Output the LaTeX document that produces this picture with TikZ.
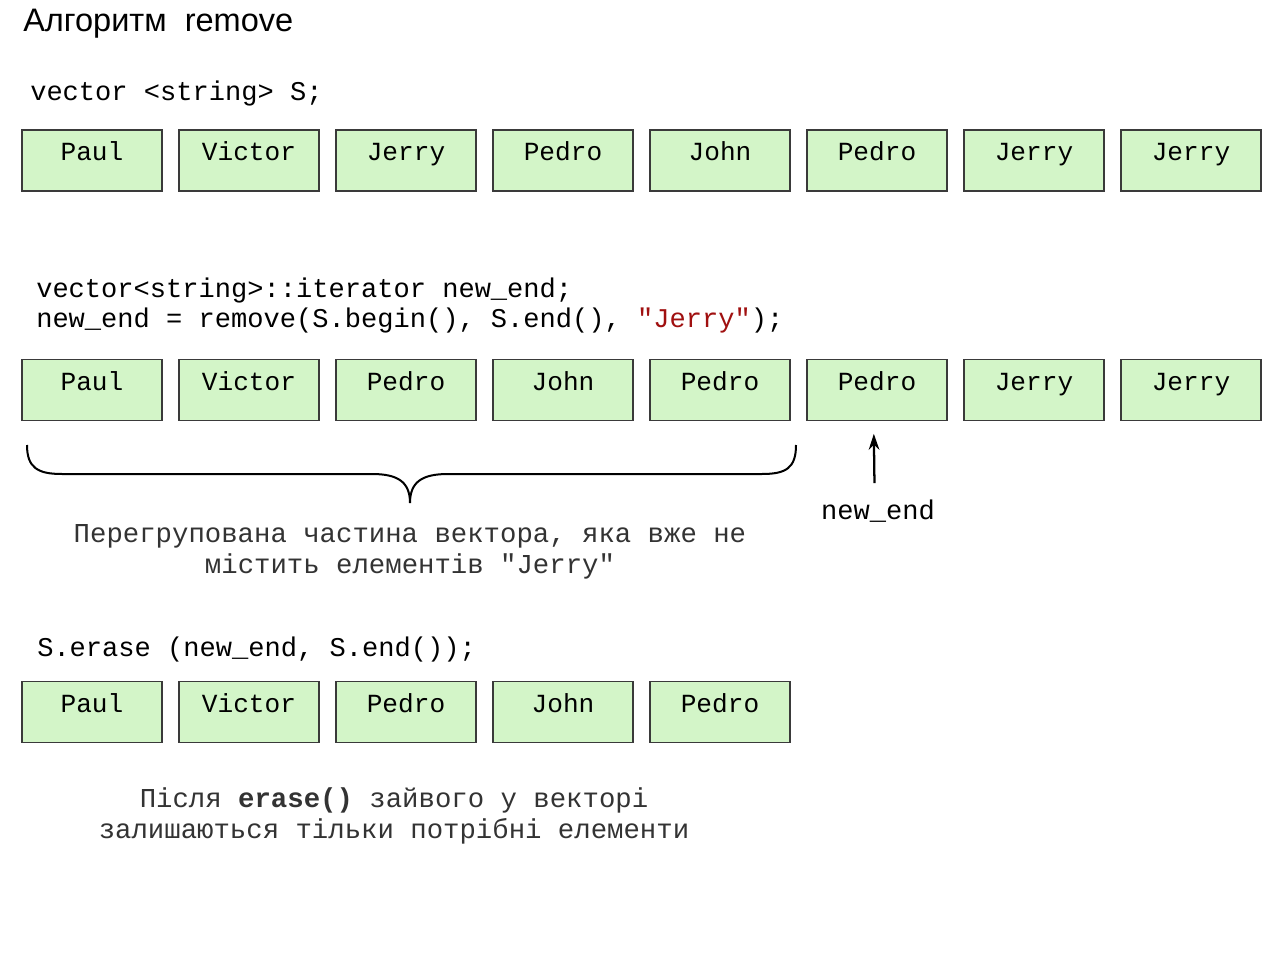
\documentclass[tikz,border=0pt]{standalone}
\usepackage{fontspec}
\setmainfont{Liberation Sans}
\newfontfamily\cmono{Liberation Mono}
\usetikzlibrary{arrows.meta}
\definecolor{boxfill}{HTML}{D3F5C8}
\definecolor{boxline}{HTML}{3A3A3A}
\definecolor{jred}{HTML}{A01010}
\definecolor{captxt}{HTML}{333333}
\tikzset{
  cell/.style={draw=boxline, line width=1pt, fill=boxfill, minimum width=105pt,
    inner sep=0pt, text height=23.25pt, text depth=22.5pt, align=center,
    font=\cmono\fontsize{19.6}{22}\selectfont},
  code/.style={anchor=base west, inner sep=0pt, font=\cmono\fontsize{20.3}{23}\selectfont},
  caption/.style={anchor=base, inner sep=0pt, text=captxt, font=\cmono\fontsize{20.5}{23}\selectfont},
  title/.style={anchor=west, inner sep=0pt, font=\fontsize{24.4}{28}\selectfont},
  brace/.style={line width=1.5pt, draw=black},
  ptr/.style={line width=1.7pt, -{Stealth[length=12pt,width=8pt]}}
}
\begin{document}
\begin{tikzpicture}[x=0.75pt,y=-0.75pt]
\useasboundingbox[fill=white] (0,0) rectangle (1280,955);
\node[title] (title) at (23,24) {Алгоритм\ \ remove};
\node[code] (c1) at (30,101) {vector <string> S;};
% row 1
\foreach \t [count=\i] in {Paul,Victor,Jerry,Pedro,John,Pedro,Jerry,Jerry}
  \node[cell] (a\i) at ({92+157*(\i-1)},160.5) {\t};
\node[code] (c2) at (36,298) {vector<string>::iterator new\_end;};
\node[code] (c3) at (36,328) {new\_end = remove(S.begin(), S.end(), \textcolor{jred}{"Jerry"});};
% row 2
\foreach \t [count=\i] in {Paul,Victor,Pedro,John,Pedro,Pedro,Jerry,Jerry}
  \node[cell] (b\i) at ({92+157*(\i-1)},390) {\t};
% brace
\coordinate (bl) at (27,445);
\coordinate (br) at (796,445);
\coordinate (bt) at (410,503);
\draw[brace] (bl) .. controls (27,468) and (38,474) .. (62,474) -- (372,474)
  .. controls (398,474) and (410,482) .. (bt)
  .. controls (410,482) and (422,474) .. (448,474) -- (762,474)
  .. controls (786,474) and (796,468) .. (br);
\node[caption] (cap1) at (410,542) {Перегрупована частина вектора, яка вже не};
\node[caption] (cap2) at (410,573) {містить елементів "Jerry"};
\node[code, anchor=base] (ne) at (878,519) {new\_end};
\draw[ptr, shorten <=12pt, shorten >=9.5pt] ([xshift=-2.5pt]ne.north) -- ([xshift=-2.5pt]b6.south);
\node[code] (c4) at (37,656) {S.erase (new\_end, S.end());};
% row 3
\foreach \t [count=\i] in {Paul,Victor,Pedro,John,Pedro}
  \node[cell] (d\i) at ({92+157*(\i-1)},712) {\t};
\node[caption] (cap3) at (394,807) {Після {\bfseries erase()} зайвого у векторі};
\node[caption] (cap4) at (394,838) {залишаються тільки потрібні елементи};
\end{tikzpicture}
\end{document}
